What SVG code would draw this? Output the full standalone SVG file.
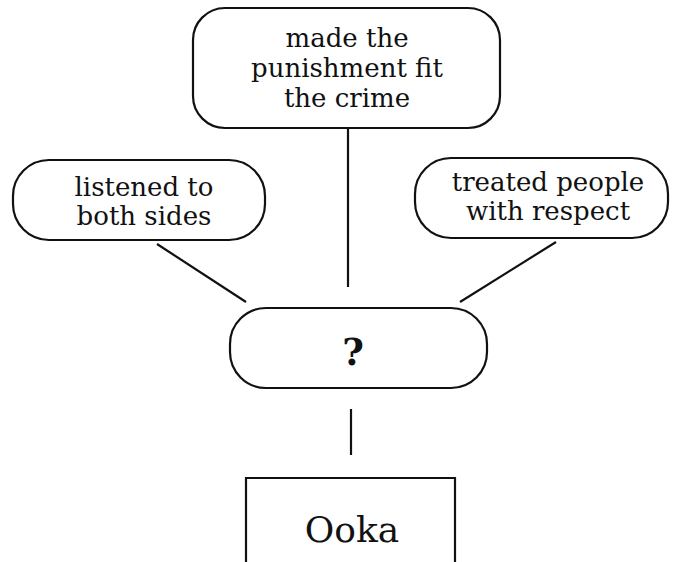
<svg xmlns="http://www.w3.org/2000/svg" width="676" height="562" viewBox="0 0 676 562">
<style>
.box{fill:#fff;stroke:#111;stroke-width:2.2}
.t{font-family:"DejaVu Serif","Liberation Serif",serif;font-size:26px;fill:#111;text-anchor:middle}
.q{font-family:"DejaVu Serif","Liberation Serif",serif;font-size:37px;font-weight:bold;fill:#111;text-anchor:middle}
.big{font-family:"DejaVu Serif","Liberation Serif",serif;font-size:36px;fill:#111;text-anchor:middle}
.c{stroke:#111;stroke-width:2.2;fill:none}
</style>
<rect width="676" height="562" fill="#fff"/>
<g id="connectors">
<line class="c" x1="348" y1="128" x2="348" y2="287"/>
<line class="c" x1="157" y1="244" x2="246" y2="302"/>
<line class="c" x1="556" y1="242" x2="460" y2="302"/>
<line class="c" x1="351" y1="409" x2="351" y2="455"/>
</g>
<g id="n-punishment">
<rect class="box" x="193" y="8" width="307" height="120" rx="32"/>
<text class="t" x="347" y="47">made the</text>
<text class="t" x="347" y="77">punishment fit</text>
<text class="t" x="347" y="107">the crime</text>
</g>
<g id="n-listened">
<rect class="box" x="13" y="160" width="252" height="80" rx="36"/>
<text class="t" x="144" y="196">listened to</text>
<text class="t" x="144" y="225">both sides</text>
</g>
<g id="n-treated">
<rect class="box" x="415" y="158" width="253" height="80" rx="36"/>
<text class="t" x="548" y="191">treated people</text>
<text class="t" x="548" y="220">with respect</text>
</g>
<g id="n-question">
<rect class="box" x="230" y="308" width="257" height="80" rx="36"/>
<text class="q" x="353" y="365">?</text>
</g>
<g id="n-ooka">
<path class="c" d="M246 562 V478 H455 V562"/>
<text class="big" x="352" y="542">Ooka</text>
</g>
</svg>
